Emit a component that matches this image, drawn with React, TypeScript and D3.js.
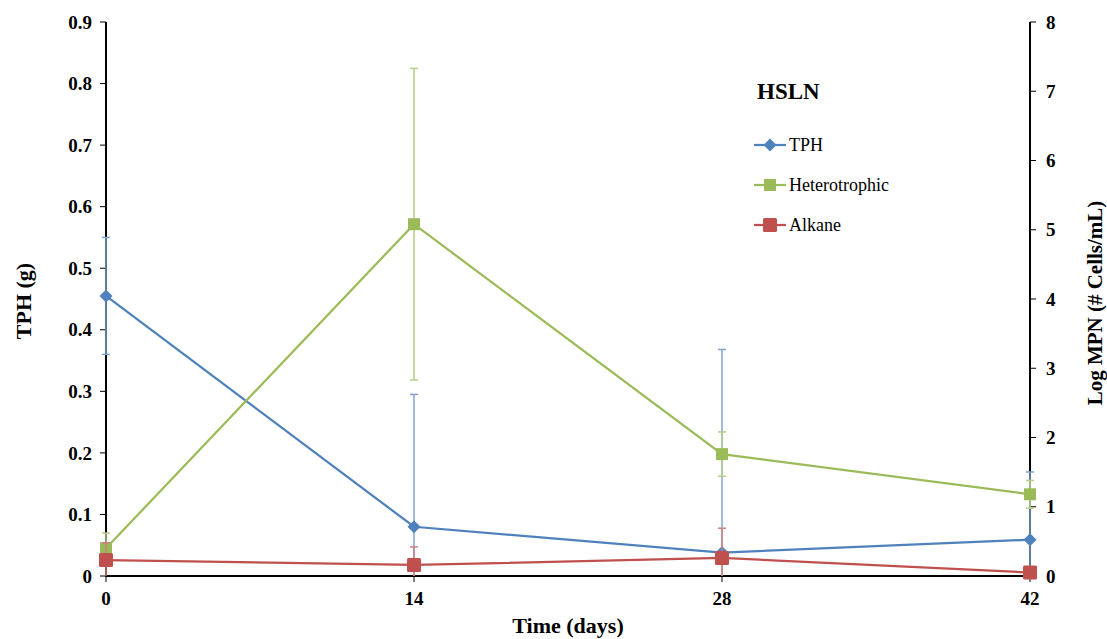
import React from "react";
import * as d3 from "d3";

const days = [0, 14, 28, 42];
const xTicks = [0, 14, 28, 42];
const leftTicks = [0, 0.1, 0.2, 0.3, 0.4, 0.5, 0.6, 0.7, 0.8, 0.9];
const rightTicks = [0, 1, 2, 3, 4, 5, 6, 7, 8];

const tphValues = [0.455, 0.08, 0.038, 0.059];
const tphErrors = [0.095, 0.215, 0.33, 0.11];
const heteroValues = [0.4, 5.08, 1.76, 1.18];
const heteroErrors = [0.22, 2.25, 0.32, 0.2];
const alkaneValues = [0.23, 0.16, 0.26, 0.05];
const alkaneErrors = [0.25, 0.26, 0.43, 0.05];

const W = 1107;
const H = 639;
const m = { left: 106, right: 1030, top: 22, bottom: 576 };

export default function App() {
  const x = d3.scaleLinear().domain([0, 42]).range([m.left, m.right]);
  const yL = d3.scaleLinear().domain([0, 0.9]).range([m.bottom, m.top]);
  const yR = d3.scaleLinear().domain([0, 8]).range([m.bottom, m.top]);

  const blue = "#4F81BD";
  const green = "#9BBB59";
  const red = "#C0504D";
  const font = "'Liberation Serif', 'Times New Roman', serif";

  const series = [
    { name: "TPH", vals: tphValues, errs: tphErrors, y: yL, color: blue, errColor: "#7FA3D1", marker: "diamond" },
    { name: "Heterotrophic", vals: heteroValues, errs: heteroErrors, y: yR, color: green, errColor: "#B5CE88", marker: "square" },
    { name: "Alkane", vals: alkaneValues, errs: alkaneErrors, y: yR, color: red, errColor: "#CF7F7D", marker: "bigsquare" },
  ];

  const drawMarker = (type: string, cx: number, cy: number, color: string, key: string) => {
    if (type === "diamond") {
      const s = 6.5;
      return <path key={key} d={`M${cx},${cy - s}L${cx + s},${cy}L${cx},${cy + s}L${cx - s},${cy}Z`} fill={color} />;
    }
    if (type === "square") {
      const s = 6;
      return <rect key={key} x={cx - s} y={cy - s} width={2 * s} height={2 * s} fill={color} />;
    }
    const s = 7;
    return <rect key={key} x={cx - s} y={cy - s} width={2 * s} height={2 * s} rx={1.5} fill={color} />;
  };

  return (
    <svg
      width={W}
      height={H}
      style={{ position: "absolute", left: 0, top: 0, display: "block" }}
      fontFamily={font}
    >
      {/* axes */}
      <line x1={m.left} x2={m.left} y1={m.top} y2={m.bottom} stroke="#000" strokeWidth={2} />
      <line x1={m.right} x2={m.right} y1={m.top} y2={m.bottom} stroke="#000" strokeWidth={2} />
      <line x1={m.left - 1} x2={m.right + 1} y1={m.bottom} y2={m.bottom} stroke="#000" strokeWidth={2} />

      {leftTicks.map((t) => (
        <g key={`l${t}`}>
          <line x1={m.left - 6} x2={m.left} y1={yL(t)} y2={yL(t)} stroke="#000" strokeWidth={1} />
          <text x={m.left - 14} y={yL(t)} dy="0.35em" textAnchor="end" fontSize={19} fontWeight="bold">
            {t === 0 ? "0" : d3.format(".1f")(t)}
          </text>
        </g>
      ))}
      {rightTicks.map((t) => (
        <g key={`r${t}`}>
          <line x1={m.right} x2={m.right + 6} y1={yR(t)} y2={yR(t)} stroke="#000" strokeWidth={1} />
          <text x={m.right + 16} y={yR(t)} dy="0.35em" textAnchor="start" fontSize={19} fontWeight="bold">
            {t}
          </text>
        </g>
      ))}
      {xTicks.map((t) => (
        <g key={`x${t}`}>
          <line x1={x(t)} x2={x(t)} y1={m.bottom} y2={m.bottom + 6} stroke="#000" strokeWidth={1} />
          <text x={x(t)} y={m.bottom + 29} textAnchor="middle" fontSize={19} fontWeight="bold">
            {t}
          </text>
        </g>
      ))}

      {/* error bars & lines */}
      {series.map((s) => {
        const line = d3.line<number>().x((_, i) => x(days[i])).y((v) => s.y(v));
        return (
          <g key={s.name}>
            {s.vals.map((v, i) => {
              const cx = x(days[i]);
              const top = s.y(v + s.errs[i]);
              const botVal = v - s.errs[i];
              const bot = s.y(Math.max(0, botVal));
              return (
                <g key={i} stroke={s.errColor} strokeWidth={1.5}>
                  <line x1={cx} x2={cx} y1={top} y2={bot} />
                  <line x1={cx - 4} x2={cx + 4} y1={top} y2={top} />
                  {botVal > 0 && <line x1={cx - 4} x2={cx + 4} y1={bot} y2={bot} />}
                </g>
              );
            })}
            <path d={line(s.vals) || ""} fill="none" stroke={s.color} strokeWidth={2.25} />
            {s.vals.map((v, i) => drawMarker(s.marker, x(days[i]), s.y(v), s.color, `m${i}`))}
          </g>
        );
      })}

      <text x={(m.left + m.right) / 2} y={633} textAnchor="middle" fontSize={22} fontWeight="bold">
        Time (days)
      </text>
      <text transform={`translate(31,${(m.top + m.bottom) / 2 + 2}) rotate(-90)`} textAnchor="middle" fontSize={22} fontWeight="bold">
        TPH (g)
      </text>
      <text transform={`translate(1102,${(m.top + m.bottom) / 2 + 4}) rotate(-90)`} textAnchor="middle" fontSize={21} fontWeight="bold">
        Log MPN (# Cells/mL)
      </text>

      {/* legend */}
      <text x={757} y={99} fontSize={23} fontWeight="bold">HSLN</text>
      {series.map((s, i) => {
        const ly = 145 + i * 40;
        return (
          <g key={`lg${i}`}>
            <line x1={754} x2={786} y1={ly} y2={ly} stroke={s.color} strokeWidth={2.25} />
            {drawMarker(s.marker, 770, ly, s.color, "lm")}
            <text x={789} y={ly} dy="0.35em" fontSize={18}>{s.name}</text>
          </g>
        );
      })}
    </svg>
  );
}
